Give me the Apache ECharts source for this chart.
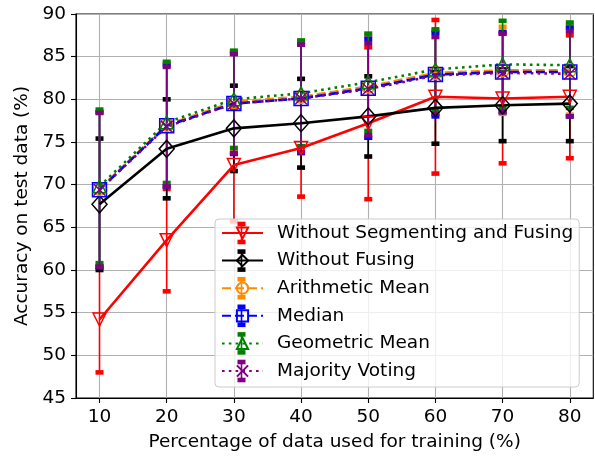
<!DOCTYPE html>
<html>
<head>
<meta charset="utf-8">
<script src="https://cdn.jsdelivr.net/npm/echarts@6/dist/echarts.min.js"></script>
<style>
html,body{margin:0;padding:0;background:#fff;}
#chart{width:595px;height:457px;}
</style>
</head>
<body>
<div id="chart"></div>
<script>
// ---- data ----
var xValues = [10, 20, 30, 40, 50, 60, 70, 80];
var xTickLabels = [10, 20, 30, 40, 50, 60, 70, 80];
var yTicks = [45, 50, 55, 60, 65, 70, 75, 80, 85, 90];

var seriesNames = ["Without Segmenting and Fusing", "Without Fusing", "Arithmetic Mean", "Median", "Geometric Mean", "Majority Voting"];

var meanNoSegFuse = [54.2, 63.5, 72.3, 74.3, 77.2, 80.3, 80.1, 80.3];
var stdNoSegFuse  = [6.2, 6.0, 6.6, 5.7, 8.9, 9.0, 7.6, 7.2];

var meanNoFuse = [67.7, 74.2, 76.6, 77.2, 78.0, 79.0, 79.3, 79.5];
var stdNoFuse  = [7.7, 5.8, 5.0, 5.2, 4.7, 4.2, 4.2, 4.4];

var meanArith = [69.5, 77.0, 79.7, 80.3, 81.5, 83.1, 83.4, 83.4];
var stdArith  = [9.0, 7.2, 5.9, 6.4, 6.0, 4.9, 5.1, 5.2];

var meanMedian = [69.4, 76.9, 79.5, 80.1, 81.3, 82.9, 83.2, 83.2];
var stdMedian  = [9.1, 7.1, 5.9, 6.4, 5.8, 4.9, 4.7, 5.2];

var meanGeo = [69.8, 77.3, 80.0, 80.7, 82.0, 83.5, 84.1, 84.0];
var stdGeo  = [9.0, 7.1, 5.7, 6.2, 5.7, 4.7, 5.1, 5.0];

var meanVote = [69.4, 76.8, 79.5, 80.1, 81.2, 82.8, 83.1, 83.0];
var stdVote  = [9.0, 7.0, 5.8, 6.3, 5.4, 4.5, 4.6, 5.0];

// ---- styles ----
var FONT = "DejaVu Sans";
var FS = 18.5;
var styles = [
  {color: "#ff0000", dash: "solid", symbol: "triangle", rotate: 180, size: [13, 13]},
  {color: "#000000", dash: "solid", symbol: "diamond", rotate: 0, size: [15, 17]},
  {color: "#ff8c00", dash: [9, 4], symbol: "circle", rotate: 0, size: [13, 13]},
  {color: "#0000ff", dash: [9, 4], symbol: "rect", rotate: 0, size: [14, 14]},
  {color: "#008000", dash: [2.6, 4.2], symbol: "triangle", rotate: 0, size: [13, 13]},
  {color: "#800080", dash: [2.6, 4.2], symbol: "path://M0,0L10,10M10,0L0,10", rotate: 0, size: [12, 12]}
];
var means = [meanNoSegFuse, meanNoFuse, meanArith, meanMedian, meanGeo, meanVote];
var stds = [stdNoSegFuse, stdNoFuse, stdArith, stdMedian, stdGeo, stdVote];

function errRender(color) {
  return function (params, api) {
    var x = api.value(0), m = api.value(1), s = api.value(2);
    var top = api.coord([x, m + s]);
    var bot = api.coord([x, m - s]);
    return {
      type: "group",
      children: [
        {type: "line", shape: {x1: top[0], y1: top[1], x2: bot[0], y2: bot[1]}, style: {stroke: color, lineWidth: 1.6}},
        {type: "rect", shape: {x: top[0] - 4, y: top[1] - 2.3, width: 8, height: 4.6}, style: {fill: color}},
        {type: "rect", shape: {x: bot[0] - 4, y: bot[1] - 2.3, width: 8, height: 4.6}, style: {fill: color}}
      ]
    };
  };
}

var series = [];
for (var i = 0; i < seriesNames.length; i++) {
  var st = styles[i];
  var errData = xValues.map(function (x, j) { return [x, means[i][j], stds[i][j]]; });
  series.push({
    type: "custom",
    name: seriesNames[i] + " err",
    renderItem: errRender(st.color),
    data: errData,
    encode: {x: 0, y: 1},
    z: 2,
    silent: true
  });
  series.push({
    type: "line",
    name: seriesNames[i],
    data: xValues.map(function (x, j) { return [x, means[i][j]]; }),
    symbol: st.symbol,
    symbolRotate: st.rotate,
    symbolSize: st.size,
    showAllSymbol: true,
    lineStyle: {color: st.color, width: 2.6, type: st.dash},
    itemStyle: {color: "rgba(255,255,255,0)", borderColor: st.color, borderWidth: 1.5},
    z: 2,
    animation: false
  });
}

// legend layout
var LEG_LEFT = 215, LEG_TOP = 219, LEG_PAD_TOP = 4, LEG_PAD_LEFT = 6;
var ITEM_W = 41, ROW_H = 20, ROW_GAP = 7.6;

// error-bar glyphs inside legend handles (matplotlib style)
var legendGlyphs = [];
styles.forEach(function (st, k) {
  var cx = LEG_LEFT + LEG_PAD_LEFT + ITEM_W / 2;
  var cy = LEG_TOP + LEG_PAD_TOP + ROW_H / 2 + k * (ROW_H + ROW_GAP);
  legendGlyphs.push({type: "line", z: 100, zlevel: 0, silent: true, shape: {x1: cx, y1: cy - 9, x2: cx, y2: cy + 9}, style: {stroke: st.color, lineWidth: 1.6}});
  legendGlyphs.push({type: "rect", z: 100, zlevel: 0, silent: true, shape: {x: cx - 4, y: cy - 9 - 2.3, width: 8, height: 4.6}, style: {fill: st.color}});
  legendGlyphs.push({type: "rect", z: 100, zlevel: 0, silent: true, shape: {x: cx - 4, y: cy + 9 - 2.3, width: 8, height: 4.6}, style: {fill: st.color}});
});

var chart = echarts.init(document.getElementById("chart"), null, {renderer: "canvas"});
chart.setOption({
  animation: false,
  backgroundColor: "#ffffff",
  grid: {left: 76, right: 1.7, top: 14, bottom: 58, show: true, borderColor: "#000", borderWidth: 1.1, backgroundColor: "rgba(0,0,0,0)"},
  xAxis: {
    type: "value",
    min: 6.5, max: 83.5,
    name: "Percentage of data used for training (%)",
    nameLocation: "middle",
    nameGap: 35,
    nameTextStyle: {fontFamily: FONT, fontSize: FS, color: "#000"},
    axisLine: {show: true, lineStyle: {color: "#000", width: 1.1}},
    axisTick: {show: true, length: 5, lineStyle: {color: "#000", width: 1.1}, customValues: xTickLabels},
    axisLabel: {fontFamily: FONT, fontSize: FS, color: "#000", margin: 10, customValues: xTickLabels},
    splitLine: {show: true, lineStyle: {color: "#b0b0b0", width: 1.1}}
  },
  yAxis: {
    type: "value",
    min: yTicks[0], max: yTicks[yTicks.length - 1], interval: 5,
    name: "Accuracy on test data (%)",
    nameLocation: "middle",
    nameGap: 42,
    nameTextStyle: {fontFamily: FONT, fontSize: FS, color: "#000"},
    axisLine: {show: true, lineStyle: {color: "#000", width: 1.1}},
    axisTick: {show: true, length: 5, lineStyle: {color: "#000", width: 1.1}},
    axisLabel: {fontFamily: FONT, fontSize: FS, color: "#000", margin: 10},
    splitLine: {show: true, lineStyle: {color: "#b0b0b0", width: 1.1}}
  },
  legend: {
    data: seriesNames,
    orient: "vertical",
    left: LEG_LEFT,
    top: LEG_TOP,
    z: 4,
    padding: [LEG_PAD_TOP, 6, 6, LEG_PAD_LEFT],
    itemWidth: ITEM_W,
    itemHeight: 14,
    itemGap: ROW_GAP,
    backgroundColor: "rgba(255,255,255,0.8)",
    borderColor: "#cccccc",
    borderWidth: 1,
    borderRadius: 4,
    textStyle: {fontFamily: FONT, fontSize: FS, color: "#000", lineHeight: ROW_H, padding: [0, 0, 0, 9]}
  },
  graphic: {elements: legendGlyphs},
  series: series
});
</script>
</body>
</html>
